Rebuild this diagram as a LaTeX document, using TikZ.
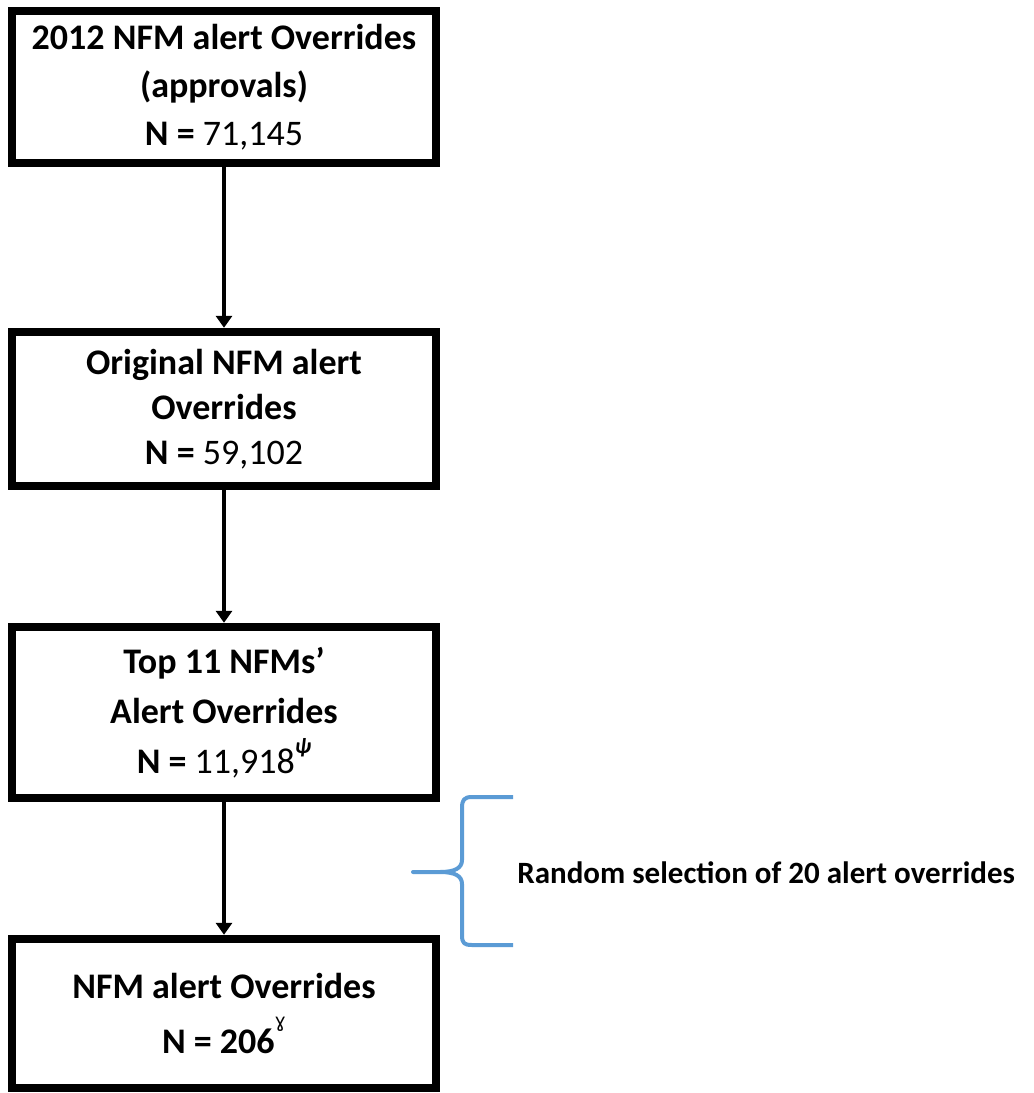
\documentclass[tikz,border=0pt]{standalone}
\usepackage{fontspec}
\setmainfont{Carlito}
\newfontfamily\dejavu{DejaVu Sans}
\usetikzlibrary{arrows.meta}
\definecolor{braceblue}{RGB}{91,155,213}

\begin{document}
\begin{tikzpicture}[x=0.5pt,y=-0.5pt,
    stage/.style={draw=black,line width=4.2pt,minimum width=212pt,align=center,inner sep=0pt,font=\bfseries\fontsize{18}{24}\selectfont},
    flow/.style={line width=1.6pt,-{Triangle[length=6pt,width=8pt]}},
    brace/.style={draw=braceblue,line width=2pt,line join=round}]
\useasboundingbox (0,0) rectangle (1034,1093);
\node[stage,minimum height=76pt] (nfm2012) at (224,87) {2012 NFM alert Overrides\\(approvals)\\N = {\mdseries 71,145}};
\node[stage,minimum height=77pt,font=\bfseries\fontsize{18}{22.5}\selectfont] (orig) at (224,409) {Original NFM alert\\Overrides\\N = {\mdseries 59,102}};
\node[stage,minimum height=85.5pt,font=\bfseries\fontsize{18}{25}\selectfont] (top11) at (224,712.5) {Top 11 NFMs’\\Alert Overrides\\N = {\mdseries 11,918}\raisebox{10pt}{\fontsize{11}{11}\selectfont\itshape ψ}};
\node[stage,minimum height=74.5pt,font=\bfseries\fontsize{18}{27.5}\selectfont] (final) at (224,1013.5) {NFM alert Overrides\\N = 206\raisebox{13pt}{\dejavu\mdseries\fontsize{9.5}{9.5}\selectfont ɣ}};
\draw[flow] (nfm2012) -- (orig);
\draw[flow] (orig) -- (top11);
\draw[flow] (top11) -- (final);
\draw[brace] (513,797) -- (472,797) .. controls (464,797) and (462,800) .. (462,808) -- (462,860) .. controls (462,868) and (455,872) .. (440,872) -- (413,872)
    -- (440,872) .. controls (455,872) and (462,876) .. (462,884) -- (462,935) .. controls (462,943) and (464,945) .. (472,945) -- (513,945);
\node[anchor=base west,inner sep=0pt,font=\bfseries\fontsize{15.5}{18}\selectfont] (randsel) at (517,883) {Random selection of 20 alert overrides};
\end{tikzpicture}
\end{document}
